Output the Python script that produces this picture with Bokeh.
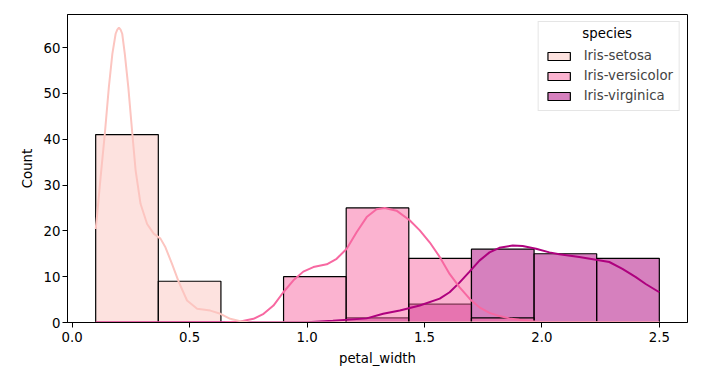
from bokeh.plotting import figure
from bokeh.models import Range1d, FixedTicker, Legend, LegendItem, ColumnDataSource, Label
from bokeh.embed import file_html
from bokeh.resources import INLINE

# ---- data ----
bin_edges = [0.1, 0.3667, 0.6333, 0.9, 1.1667, 1.4333, 1.7, 1.9667, 2.2333, 2.5]
species = ["Iris-setosa", "Iris-versicolor", "Iris-virginica"]
setosa_counts = [41, 9, 0, 0, 0, 0, 0, 0, 0]
versicolor_counts = [0, 0, 0, 10, 25, 14, 1, 0, 0]
virginica_counts = [0, 0, 0, 0, 1, 4, 16, 15, 14]

setosa_kde_x = [0.1, 0.104, 0.121, 0.139, 0.156, 0.171, 0.185, 0.192, 0.199, 0.206, 0.213, 0.224,
                0.239, 0.256, 0.270, 0.291, 0.319, 0.347, 0.376, 0.397, 0.425, 0.454, 0.489,
                0.532, 0.588, 0.631, 0.673, 0.716, 0.76, 2.5]
setosa_kde_y = [20.4, 22.3, 31.7, 41.2, 51.3, 58.6, 63.0, 63.9, 64.3, 63.9, 63.0, 58.6,
                51.3, 41.2, 33.2, 25.9, 21.5, 19.4, 18.3, 16.4, 12.8, 8.8, 4.8,
                3.0, 2.6, 1.9, 0.8, 0.3, 0.0, 0.0]

versicolor_kde_x = [0.1, 0.65, 0.716, 0.772, 0.815, 0.857, 0.899, 0.942, 0.984, 1.027, 1.084, 1.126,
                    1.169, 1.211, 1.254, 1.296, 1.331, 1.381, 1.437, 1.480, 1.522, 1.565, 1.607,
                    1.649, 1.692, 1.734, 1.777, 1.819, 1.862, 1.904, 1.95, 2.0, 2.5]
versicolor_kde_y = [0.0, 0.05, 0.2, 0.8, 1.9, 3.7, 6.6, 9.2, 11.1, 12.1, 12.7, 13.9,
                    16.1, 19.7, 23.0, 24.7, 25.0, 24.4, 22.3, 20.1, 17.5, 14.3, 10.6,
                    7.7, 5.2, 3.3, 2.1, 1.4, 0.9, 0.6, 0.3, 0.1, 0.0]

virginica_kde_x = [0.1, 1.0, 1.11, 1.254, 1.324, 1.395, 1.480, 1.565, 1.607, 1.649, 1.692, 1.734,
                   1.777, 1.819, 1.876, 1.918, 1.975, 2.032, 2.074, 2.159, 2.230, 2.287, 2.343,
                   2.400, 2.442, 2.5]
virginica_kde_y = [0.0, 0.05, 0.4, 0.9, 1.9, 2.6, 3.7, 5.2, 6.6, 8.7, 11.1, 13.5,
                   15.3, 16.3, 16.8, 16.7, 16.1, 15.3, 14.9, 14.3, 13.7, 13.2, 11.7,
                   9.9, 8.4, 6.6]

x_ticks = [0.0, 0.5, 1.0, 1.5, 2.0, 2.5]
y_ticks = [0, 10, 20, 30, 40, 50, 60]
legend_title = "species"

line_colors = ["#fcc5c0", "#f768a1", "#ae017e"]

FONT = "DejaVu Sans"

p = figure(width=727, height=373, output_backend="svg", toolbar_location=None,
           x_range=Range1d(-0.02, 2.62), y_range=Range1d(0, 67.2),
           min_border_left=67, min_border_right=40, min_border_top=14, min_border_bottom=51)
p.grid.visible = False
p.outline_line_color = "black"
p.outline_line_width = 1
p.background_fill_color = "white"
p.border_fill_color = "white"

for ax in (p.xaxis[0], p.yaxis[0]):
    ax.axis_line_color = "black"
    ax.major_tick_line_color = "black"
    ax.major_tick_out = 5
    ax.major_tick_in = 0
    ax.minor_tick_line_color = None
    ax.major_label_text_font = FONT
    ax.major_label_text_font_size = "13.3px"
    ax.major_label_text_color = "black"
    ax.axis_label_text_font = FONT
    ax.axis_label_text_font_size = "13.3px"
    ax.axis_label_text_font_style = "normal"
    ax.axis_label_text_color = "black"

p.xaxis.ticker = FixedTicker(ticks=x_ticks)
p.yaxis.ticker = FixedTicker(ticks=y_ticks)
p.xaxis.major_label_overrides = {t: f"{t:.1f}" for t in x_ticks}
p.xaxis.axis_label = "petal_width"
p.yaxis.axis_label = "Count"
p.xaxis.major_label_standoff = 4
p.yaxis.major_label_standoff = 2
p.xaxis.axis_label_standoff = 6
p.yaxis.axis_label_standoff = 6

all_counts = [setosa_counts, versicolor_counts, virginica_counts]
renderers = {}
# draw in reverse order so the first species is on top
for i in [2, 1, 0]:
    counts = all_counts[i]
    left = [bin_edges[k] for k in range(len(counts)) if counts[k] > 0]
    right = [bin_edges[k + 1] for k in range(len(counts)) if counts[k] > 0]
    top = [counts[k] for k in range(len(counts)) if counts[k] > 0]
    src = ColumnDataSource(dict(left=left, right=right, top=top, bottom=[0] * len(top)))
    r = p.quad(left="left", right="right", top="top", bottom="bottom", source=src,
               fill_color=line_colors[i], fill_alpha=0.5,
               line_color="black", line_width=1.2)
    renderers[i] = r

kde_x = [setosa_kde_x, versicolor_kde_x, virginica_kde_x]
kde_y = [setosa_kde_y, versicolor_kde_y, virginica_kde_y]
for i in [2, 1, 0]:
    p.line(kde_x[i], kde_y[i], line_color=line_colors[i], line_width=2)

legend = Legend(items=[LegendItem(label=species[i], renderers=[renderers[i]]) for i in range(3)],
                location="top_right", title="\u00a0")
legend.title_text_font = FONT
legend.title_text_font_size = "13.3px"
legend.title_text_font_style = "normal"
legend.label_text_font = FONT
legend.label_text_font_size = "13.3px"
legend.glyph_width = 28
legend.glyph_height = 10
legend.label_height = 17
legend.label_standoff = 11
legend.spacing = 3
legend.padding = 6
legend.margin = 7
legend.border_line_color = "#cccccc"
legend.border_line_width = 1
legend.background_fill_color = None
legend.title_standoff = 4
p.add_layout(legend, "center")

# centred legend title (matplotlib style)
title_label = Label(x=2.278, y=63.0, text=legend_title, text_align="center",
                    text_baseline="middle", text_font=FONT, text_font_size="13.3px",
                    text_color="black", level="overlay")
p.add_layout(title_label)

open("out.html", "w").write(file_html(p, INLINE))
